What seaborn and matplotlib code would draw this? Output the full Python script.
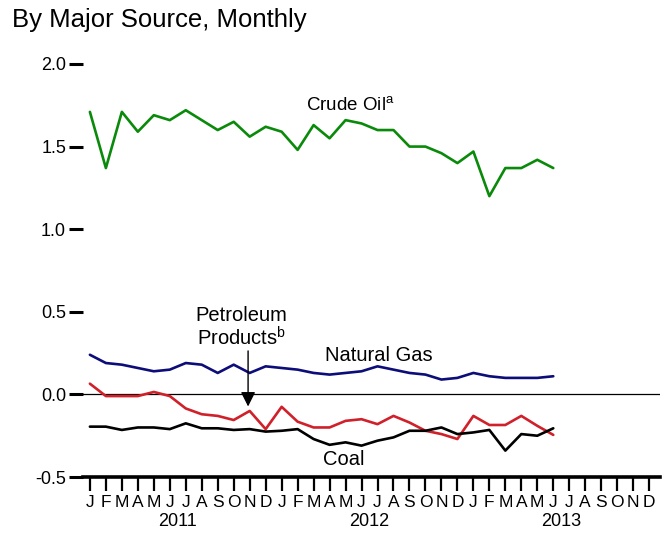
import numpy as np
import pandas as pd
import matplotlib
matplotlib.use("Agg")
import matplotlib.pyplot as plt
import matplotlib.transforms as mtransforms
import seaborn as sns

# monthly values, Jan 2011 .. Jun 2013
crude_oil = [1.71, 1.37, 1.71, 1.59, 1.69, 1.66, 1.72, 1.66, 1.60, 1.65,
             1.56, 1.62, 1.59, 1.48, 1.63, 1.55, 1.66, 1.64, 1.60, 1.60,
             1.50, 1.50, 1.46, 1.40, 1.47, 1.20, 1.37, 1.37, 1.42, 1.37]
natural_gas = [0.24, 0.19, 0.18, 0.16, 0.14, 0.15, 0.19, 0.18, 0.13, 0.18,
               0.13, 0.17, 0.16, 0.15, 0.13, 0.12, 0.13, 0.14, 0.17, 0.15,
               0.13, 0.12, 0.09, 0.10, 0.13, 0.11, 0.10, 0.10, 0.10, 0.11]
petroleum = [0.065, -0.01, -0.01, -0.01, 0.015, -0.01, -0.085, -0.12, -0.13, -0.155,
             -0.10, -0.21, -0.075, -0.165, -0.20, -0.20, -0.16, -0.15, -0.18, -0.13,
             -0.17, -0.22, -0.24, -0.27, -0.13, -0.185, -0.185, -0.13, -0.19, -0.245]
coal = [-0.195, -0.195, -0.215, -0.20, -0.20, -0.21, -0.175, -0.205, -0.205, -0.215,
        -0.21, -0.225, -0.22, -0.21, -0.27, -0.305, -0.29, -0.31, -0.28, -0.26,
        -0.22, -0.22, -0.20, -0.24, -0.23, -0.215, -0.34, -0.24, -0.25, -0.205]

month_letters = ["J", "F", "M", "A", "M", "J", "J", "A", "S", "O", "N", "D"] * 3
years = ["2011", "2012", "2013"]

series = {
    "Crude Oil": crude_oil,
    "Natural Gas": natural_gas,
    "Petroleum Products": petroleum,
    "Coal": coal,
}
colors = {
    "Crude Oil": "#0a8a0a",
    "Natural Gas": "#0d0d7a",
    "Petroleum Products": "#d0202a",
    "Coal": "#000000",
}

rows = []
for name, vals in series.items():
    for i, v in enumerate(vals):
        rows.append({"month": i, "value": v, "source": name})
df = pd.DataFrame(rows)

sns.set_style("ticks")
plt.rcParams["font.family"] = ["Liberation Sans", "DejaVu Sans"]
plt.rcParams["mathtext.fontset"] = "custom"
plt.rcParams["mathtext.rm"] = "Liberation Sans"
plt.rcParams["text.color"] = "black"
plt.rcParams["xtick.color"] = "black"
plt.rcParams["ytick.color"] = "black"

fig = plt.figure(figsize=(6.67, 5.33), dpi=100)
ax = fig.add_axes([0.124, 0.105, 0.866, 0.775])

sns.lineplot(data=df, x="month", y="value", hue="source", palette=colors,
             linewidth=1.9, legend=False, ax=ax, zorder=3)

ax.axhline(0, color="black", linewidth=0.9, zorder=2)

ax.set_xlim(-0.45, 35.7)
ax.set_ylim(-0.5, 2.0)
ax.set_yticks([-0.5, 0.0, 0.5, 1.0, 1.5, 2.0])
ax.set_yticklabels(["-0.5", "0.0", "0.5", "1.0", "1.5", "2.0"])
ax.set_xticks(range(36))
ax.set_xticklabels(month_letters)
ax.set_xlabel("")
ax.set_ylabel("")

for s in ["top", "right", "left"]:
    ax.spines[s].set_visible(False)
ax.spines["bottom"].set_linewidth(2.6)
ax.spines["bottom"].set_color("black")

ax.tick_params(axis="y", left=True, length=10, width=2.2, labelsize=13, pad=2)
ax.tick_params(axis="x", bottom=True, length=10, width=1.6, labelsize=12.5, pad=3)

trans = mtransforms.blended_transform_factory(ax.transData, fig.transFigure)
for k, yr in enumerate(years):
    ax.text(12 * k + 5.5, 0.022, yr, transform=trans, ha="center", va="center", fontsize=13)

fig.text(0.018, 0.962, "By Major Source, Monthly", ha="left", va="center", fontsize=18.5)

ax.text(16.3, 1.75, r"Crude Oil$^\mathrm{a}$", ha="center", va="center", fontsize=13.5)
ax.text(18.1, 0.236, "Natural Gas", ha="center", va="center", fontsize=14.5)
ax.text(15.9, -0.395, "Coal", ha="center", va="center", fontsize=14.5)
ax.text(9.5, 0.48, "Petroleum", ha="center", va="center", fontsize=14.5)
ax.text(9.5, 0.34, r"Products$^\mathrm{b}$", ha="center", va="center", fontsize=14.5)
ax.annotate("", xy=(9.9, -0.09), xytext=(9.9, 0.28),
            arrowprops=dict(arrowstyle="-|>", color="black", lw=1.0,
                            mutation_scale=22), zorder=4)

fig.savefig("out.png", dpi=100)
